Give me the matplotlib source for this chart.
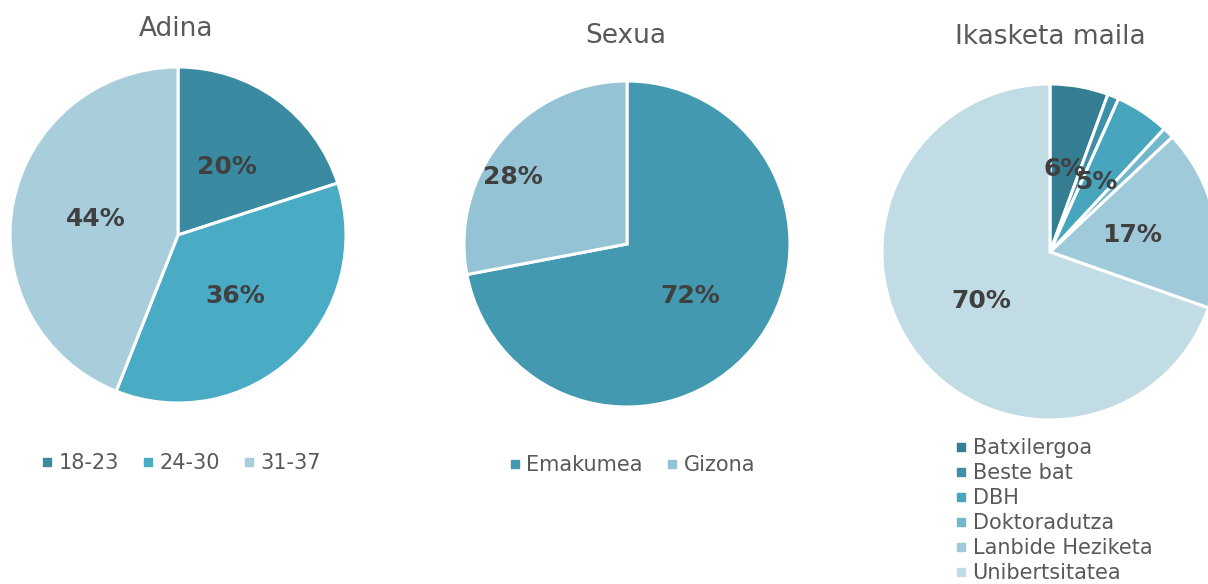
import numpy as np
import matplotlib
matplotlib.use("Agg")
import matplotlib.pyplot as plt
from matplotlib.lines import Line2D

plt.rcParams['font.family'] = ['DejaVu Sans']

W, H = 1208, 584

# data
age_labels = ['18-23', '24-30', '31-37']
age_values = [20, 36, 44]
age_colors = ['#3a8ba1', '#4aabc5', '#a8cedb']

sex_labels = ['Emakumea', 'Gizona']
sex_values = [72, 28]
sex_colors = ['#4399b0', '#93c3d4']

edu_labels = ['Batxilergoa', 'Beste bat', 'DBH', 'Doktoradutza',
              'Lanbide Heziketa', 'Unibertsitatea']
edu_values = [5.6, 1.1, 5.2, 1.1, 17.4, 69.6]
edu_colors = ['#347d92', '#3d90a7', '#47a5bd', '#72b7ca', '#9fcad9', '#c2dce5']

TITLE_C = '#595959'
LABEL_C = '#404040'

fig = plt.figure(figsize=(W / 100, H / 100), dpi=100)


def pie_axes(cx, cy, r):
    # pixel centre/radius -> figure axes
    ax = fig.add_axes([(cx - r) / W, (H - cy - r) / H, 2 * r / W, 2 * r / H])
    return ax


def draw_pie(ax, values, colors, dists, nudges):
    wedges, _ = ax.pie(values, colors=colors, startangle=90, counterclock=False,
                       wedgeprops={'linewidth': 2.2, 'edgecolor': 'white'})
    total = sum(values)
    for w, v, d, n in zip(wedges, values, dists, nudges):
        pct = v / total * 100
        if pct < 2:
            continue
        ang = np.deg2rad((w.theta1 + w.theta2) / 2 + n)
        ax.text(d * np.cos(ang), d * np.sin(ang), '%d%%' % round(pct),
                ha='center', va='center', fontsize=18, fontweight='bold',
                color=LABEL_C)
    ax.set_xlim(-1, 1)
    ax.set_ylim(-1, 1)
    ax.axis('off')
    return wedges


def handles(colors):
    return [Line2D([], [], linestyle='none', marker='s', markersize=5.5,
                   markerfacecolor=c, markeredgecolor=c) for c in colors]


ax1 = pie_axes(178, 235, 168)
draw_pie(ax1, age_values, age_colors, [0.5] * 3, [0] * 3)
ax2 = pie_axes(627, 244, 163)
draw_pie(ax2, sex_values, sex_colors, [0.5, 0.81], [0, 9])
ax3 = pie_axes(1050, 252, 168)
draw_pie(ax3, edu_values, edu_colors, [0.5] * 6, [0] * 6)

fig.text(176 / W, 1 - 36 / H, 'Adina', ha='center', va='baseline',
         fontsize=19, color=TITLE_C)
fig.text(626 / W, 1 - 43 / H, 'Sexua', ha='center', va='baseline',
         fontsize=19, color=TITLE_C)
fig.text(1050 / W, 1 - 44 / H, 'Ikasketa maila', ha='center', va='baseline',
         fontsize=19, color=TITLE_C)

leg_kw = dict(frameon=False, fontsize=15, handlelength=0.4, handletextpad=0.35,
              borderpad=0, borderaxespad=0, labelcolor=TITLE_C)

fig.legend(handles(age_colors), age_labels, loc='center', ncol=3,
           columnspacing=1.2, bbox_to_anchor=(182 / W, 1 - 463 / H), **leg_kw)
fig.legend(handles(sex_colors), sex_labels, loc='center', ncol=2,
           columnspacing=1.2, bbox_to_anchor=(633 / W, 1 - 465 / H), **leg_kw)
fig.legend(handles(edu_colors), edu_labels, loc='upper left', ncol=1,
           labelspacing=0.24, bbox_to_anchor=(957 / W, 1 - 438 / H), **leg_kw)

fig.savefig('out.png', dpi=100)
